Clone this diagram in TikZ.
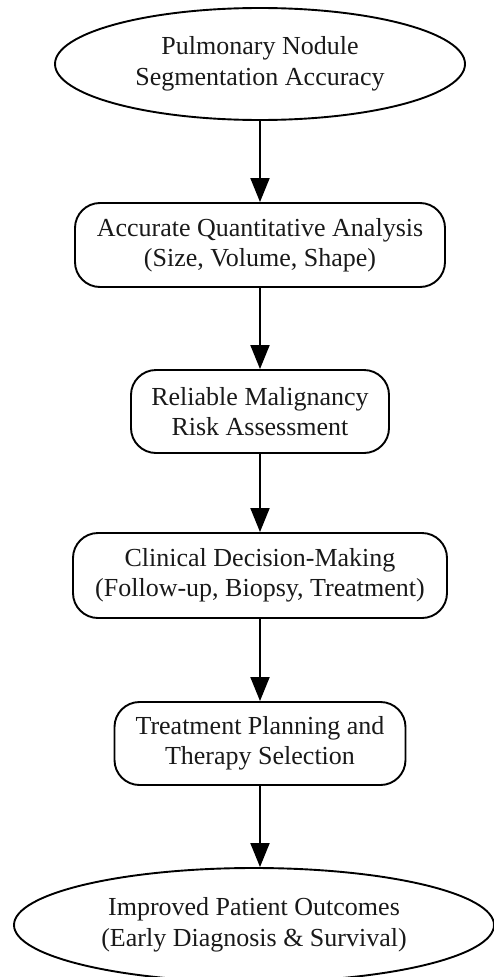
\documentclass[tikz,border=0pt]{standalone}
\usepackage{fontspec}
\setmainfont{Liberation Serif}
\usetikzlibrary{shapes.geometric,arrows.meta}
\begin{document}
\begin{tikzpicture}[x=1pt,y=-1pt,
  base/.style={draw=black,line width=1.9pt,align=center,inner sep=0pt,
    font=\fontsize{26}{30.5}\selectfont,text=black!90},
  oval/.style={base,ellipse},
  rbox/.style={base,rectangle,rounded corners=25pt},
  flow/.style={line width=1.9pt,-{Triangle[length=24pt,width=19pt]}}]
\useasboundingbox (0,0) rectangle (494,977);
\node[oval,minimum width=410pt,minimum height=112pt] (A) at (260,64)
  {Pulmonary Nodule\\Segmentation Accuracy};
\node[rbox,minimum width=370pt,minimum height=84pt] (B) at (260,245)
  {Accurate Quantitative Analysis\\(Size, Volume, Shape)};
\node[rbox,minimum width=258pt,minimum height=83pt] (C) at (260,411.5)
  {Reliable Malignancy\\Risk Assessment};
\node[rbox,minimum width=374pt,minimum height=85pt] (D) at (260,575.5)
  {Clinical Decision-Making\\(Follow-up, Biopsy, Treatment)};
\node[rbox,minimum width=291pt,minimum height=83pt] (E) at (260,743.5)
  {Treatment Planning and\\Therapy Selection};
\node[oval,minimum width=480pt,minimum height=114pt] (F) at (254,925)
  {Improved Patient Outcomes\\(Early Diagnosis \& Survival)};
\draw[flow] (A.south) -- (B.north);
\draw[flow] (B.south) -- (C.north);
\draw[flow] (C.south) -- (D.north);
\draw[flow] (D.south) -- (E.north);
\draw[flow] (E.south) -- (E.south |- F.north);
\end{tikzpicture}
\end{document}
